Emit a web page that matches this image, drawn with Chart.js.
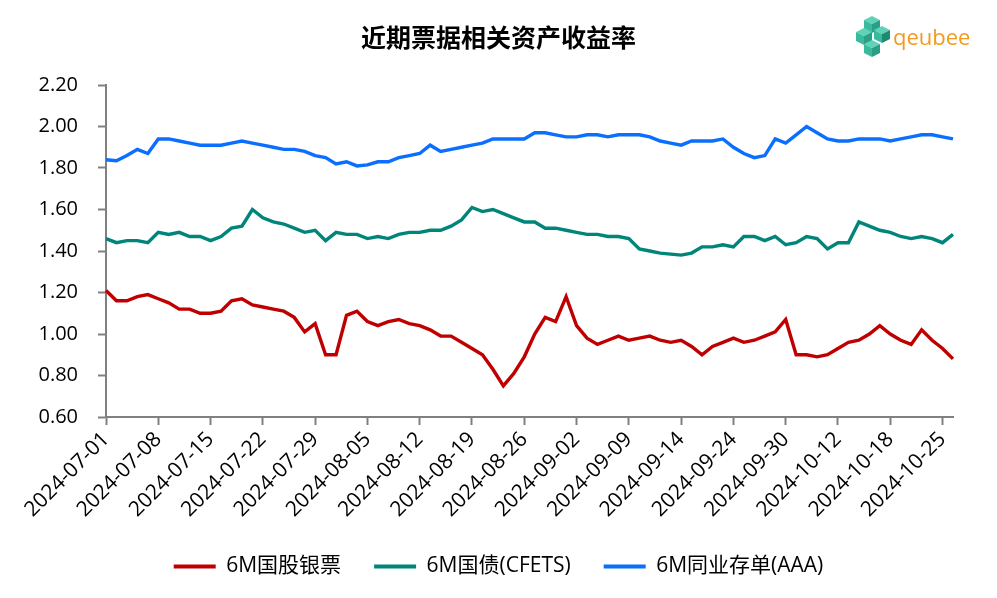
<!DOCTYPE html>
<html>
<head>
<meta charset="utf-8">
<script src="https://cdn.jsdelivr.net/npm/chart.js@4.4.1/dist/chart.umd.min.js"></script>
<style>
  html, body { margin: 0; padding: 0; background: #fff; }
  .wrap { position: relative; width: 997px; height: 598px; }
  .logo { position: absolute; left: 851px; top: 16px; }
</style>
</head>
<body>
<div class="wrap">
  <canvas id="chart" width="997" height="598"></canvas>
  <svg class="logo" width="130" height="46" viewBox="0 0 130 46">
    <polygon points="13,4 21,0 29,4 21,8" fill="#5fd3b8"/>
    <polygon points="13,4 21,8 21,17 13,13" fill="#3bb99c"/>
    <polygon points="29,4 21,8 21,17 29,13" fill="#2a9f85"/>
    <polygon points="23,14 31,10 39,14 31,18" fill="#5fd3b8"/>
    <polygon points="23,14 31,18 31,27 23,23" fill="#3bb99c"/>
    <polygon points="39,14 31,18 31,27 39,23" fill="#1f8a72"/>
    <polygon points="5,16 13,12 21,16 13,20" fill="#5fd3b8"/>
    <polygon points="5,16 13,20 13,29 5,25" fill="#3bb99c"/>
    <polygon points="21,16 13,20 13,29 21,25" fill="#2a9f85"/>
    <polygon points="13,28 21,24 29,28 21,32" fill="#5fd3b8"/>
    <polygon points="13,28 21,32 21,41 13,37" fill="#3bb99c"/>
    <polygon points="29,28 21,32 21,41 29,37" fill="#2a9f85"/>
    <text x="42" y="29" font-family="Open Sans, sans-serif" font-size="22" fill="#f39a1e">qeubee</text>
  </svg>
</div>
<script>
const dates = [
  '2024-07-01','2024-07-02','2024-07-03','2024-07-04','2024-07-05',
  '2024-07-08','2024-07-09','2024-07-10','2024-07-11','2024-07-12',
  '2024-07-15','2024-07-16','2024-07-17','2024-07-18','2024-07-19',
  '2024-07-22','2024-07-23','2024-07-24','2024-07-25','2024-07-26',
  '2024-07-29','2024-07-30','2024-07-31','2024-08-01','2024-08-02',
  '2024-08-05','2024-08-06','2024-08-07','2024-08-08','2024-08-09',
  '2024-08-12','2024-08-13','2024-08-14','2024-08-15','2024-08-16',
  '2024-08-19','2024-08-20','2024-08-21','2024-08-22','2024-08-23',
  '2024-08-26','2024-08-27','2024-08-28','2024-08-29','2024-08-30',
  '2024-09-02','2024-09-03','2024-09-04','2024-09-05','2024-09-06',
  '2024-09-09','2024-09-10','2024-09-11','2024-09-12','2024-09-13',
  '2024-09-14','2024-09-18','2024-09-19','2024-09-20','2024-09-23',
  '2024-09-24','2024-09-25','2024-09-26','2024-09-27','2024-09-29',
  '2024-09-30','2024-10-08','2024-10-09','2024-10-10','2024-10-11',
  '2024-10-12','2024-10-14','2024-10-15','2024-10-16','2024-10-17',
  '2024-10-18','2024-10-21','2024-10-22','2024-10-23','2024-10-24',
  '2024-10-25','2024-10-28'
];

// 6M国股银票
const billYield = [
  1.21, 1.16, 1.16, 1.18, 1.19, 1.17, 1.15, 1.12, 1.12, 1.10,
  1.10, 1.11, 1.16, 1.17, 1.14, 1.13, 1.12, 1.11, 1.08, 1.01,
  1.05, 0.90, 0.90, 1.09, 1.11, 1.06, 1.04, 1.06, 1.07, 1.05,
  1.04, 1.02, 0.99, 0.99, 0.96, 0.93, 0.90, 0.83, 0.75, 0.81,
  0.89, 1.00, 1.08, 1.06, 1.18, 1.04, 0.98, 0.95, 0.97, 0.99,
  0.97, 0.98, 0.99, 0.97, 0.96, 0.97, 0.94, 0.90, 0.94, 0.96,
  0.98, 0.96, 0.97, 0.99, 1.01, 1.07, 0.90, 0.90, 0.89, 0.90,
  0.93, 0.96, 0.97, 1.00, 1.04, 1.00, 0.97, 0.95, 1.02, 0.97,
  0.93, 0.88
];

// 6M国债(CFETS)
const govYield = [
  1.46, 1.44, 1.45, 1.45, 1.44, 1.49, 1.48, 1.49, 1.47, 1.47,
  1.45, 1.47, 1.51, 1.52, 1.60, 1.56, 1.54, 1.53, 1.51, 1.49,
  1.50, 1.45, 1.49, 1.48, 1.48, 1.46, 1.47, 1.46, 1.48, 1.49,
  1.49, 1.50, 1.50, 1.52, 1.55, 1.61, 1.59, 1.60, 1.58, 1.56,
  1.54, 1.54, 1.51, 1.51, 1.50, 1.49, 1.48, 1.48, 1.47, 1.47,
  1.46, 1.41, 1.40, 1.39, 1.385, 1.38, 1.39, 1.42, 1.42, 1.43,
  1.42, 1.47, 1.47, 1.45, 1.47, 1.43, 1.44, 1.47, 1.46, 1.41,
  1.44, 1.44, 1.54, 1.52, 1.50, 1.49, 1.47, 1.46, 1.47, 1.46,
  1.44, 1.48
];

// 6M同业存单(AAA)
const cdYield = [
  1.84, 1.835, 1.86, 1.89, 1.87, 1.94, 1.94, 1.93, 1.92, 1.91,
  1.91, 1.91, 1.92, 1.93, 1.92, 1.91, 1.90, 1.89, 1.89, 1.88,
  1.86, 1.85, 1.82, 1.83, 1.81, 1.815, 1.83, 1.83, 1.85, 1.86,
  1.87, 1.91, 1.88, 1.89, 1.90, 1.91, 1.92, 1.94, 1.94, 1.94,
  1.94, 1.97, 1.97, 1.96, 1.95, 1.95, 1.96, 1.96, 1.95, 1.96,
  1.96, 1.96, 1.95, 1.93, 1.92, 1.91, 1.93, 1.93, 1.93, 1.94,
  1.90, 1.87, 1.85, 1.86, 1.94, 1.92, 1.96, 2.00, 1.97, 1.94,
  1.93, 1.93, 1.94, 1.94, 1.94, 1.93, 1.94, 1.95, 1.96, 1.96,
  1.95, 1.94
];

const FONT = '"Open Sans", "Noto Sans CJK SC", sans-serif';
const AXIS = '#808080';

const mkSet = (label, data, color) => ({
  label: label,
  data: data,
  borderColor: color,
  backgroundColor: color,
  borderWidth: 3.4,
  pointRadius: 0,
  tension: 0,
});

const ctx = document.getElementById('chart').getContext('2d');
new Chart(ctx, {
  type: 'line',
  data: {
    labels: dates,
    datasets: [
      mkSet('6M国股银票', billYield, '#c00000'),
      mkSet('6M国债(CFETS)', govYield, '#00857a'),
      mkSet('6M同业存单(AAA)', cdYield, '#0a6eff'),
    ]
  },
  options: {
    responsive: false,
    animation: false,
    layout: { padding: { left: 0, right: 0, top: 0, bottom: 11 } },
    plugins: {
      title: {
        display: true,
        text: '近期票据相关资产收益率',
        color: '#000',
        font: { family: FONT, size: 25, weight: 'bold' },
        padding: { top: 25, bottom: 30 }
      },
      legend: {
        position: 'bottom',
        labels: {
          color: '#000',
          font: { family: FONT, size: 21 },
          boxWidth: 42,
          boxHeight: 4,
          padding: 33,
          generateLabels: chart => {
            const items = Chart.defaults.plugins.legend.labels.generateLabels(chart);
            items.forEach(it => { it.lineWidth = 0; });
            return items;
          }
        }
      },
      tooltip: { enabled: false }
    },
    scales: {
      x: {
        offset: false,
        border: { color: AXIS, width: 2 },
        grid: {
          drawOnChartArea: false,
          drawTicks: true,
          tickLength: 8,
          tickWidth: 2,
          color: c => (c.index % 5 === 0 ? AXIS : 'rgba(0,0,0,0)')
        },
        ticks: {
          autoSkip: false,
          maxRotation: 45,
          minRotation: 45,
          padding: 2,
          color: '#000',
          font: { family: FONT, size: 21 },
          callback: function (v, i) { return i % 5 === 0 ? this.getLabelForValue(v) : ''; }
        },
        afterFit: s => { s.height = 106; }
      },
      y: {
        min: 0.6,
        max: 2.2,
        border: { color: AXIS, width: 2 },
        grid: {
          drawOnChartArea: false,
          tickLength: 8,
          tickWidth: 2,
          color: AXIS
        },
        ticks: {
          stepSize: 0.2,
          padding: 20,
          color: '#000',
          font: { family: FONT, size: 20 },
          callback: v => v.toFixed(2)
        },
        afterFit: s => { s.width = 106; }
      },
      // empty right-hand axis, only keeps the right margin
      yRight: {
        position: 'right',
        min: 0.6,
        max: 2.2,
        border: { display: false },
        grid: { display: false },
        ticks: { display: false },
        afterFit: s => { s.width = 44; }
      }
    }
  }
});
</script>
</body>
</html>
